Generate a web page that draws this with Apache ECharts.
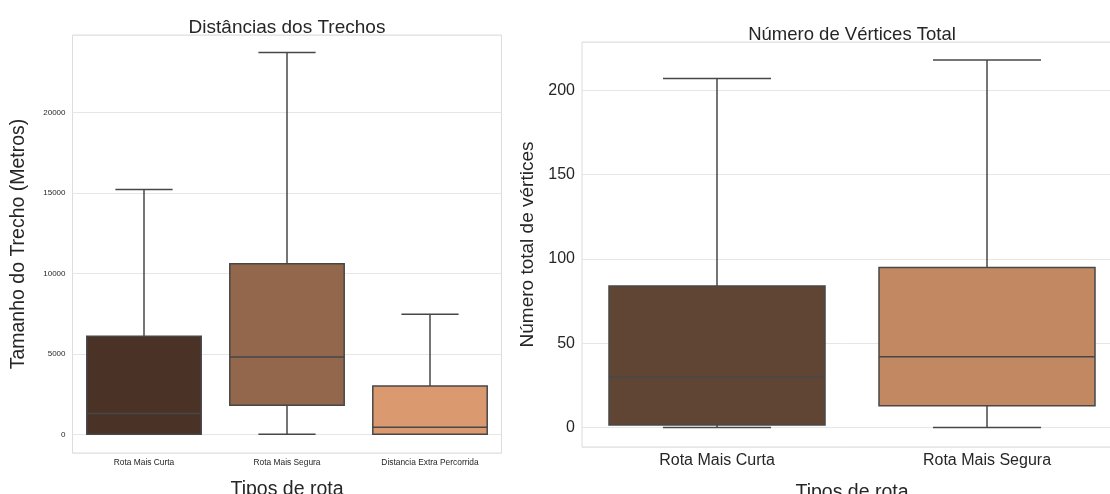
<!DOCTYPE html>
<html>
<head>
<meta charset="utf-8">
<script src="https://cdn.jsdelivr.net/npm/echarts@6/dist/echarts.min.js"></script>
<style>
html,body{margin:0;padding:0;background:#fff;}
#c{width:1110px;height:494px;}
</style>
</head>
<body>
<div id="c"></div>
<script>
// Left chart: Distâncias dos Trechos
const leftCategories = ['Rota Mais Curta', 'Rota Mais Segura', 'Distancia Extra Percorrida'];
// [min, q1, median, q3, max]
const leftStats = [
  [0, 0, 1300, 6100, 15230],
  [0, 1800, 4800, 10600, 23750],
  [0, 0, 440, 3000, 7460]
];
const leftColors = ['#4a3326', '#93674b', '#db9970'];

// Right chart: Número de Vértices Total
const rightCategories = ['Rota Mais Curta', 'Rota Mais Segura'];
const rightStats = [
  [0, 1.5, 30, 84, 207],
  [0, 13, 42, 95, 218]
];
const rightColors = ['#604434', '#c28862'];

const FONT = '"Liberation Sans", Arial, sans-serif';
const TXT = '#262626';
const LINE = '#474747';

function boxRender(colors) {
  return function (params, api) {
    const cat = api.value(0);
    const mn = api.value(1), q1 = api.value(2), md = api.value(3), q3 = api.value(4), mx = api.value(5);
    const band = api.size([1, 0])[0];
    const bw = band * 0.8;
    const cw = bw * 0.5;
    const pMin = api.coord([cat, mn]);
    const pQ1 = api.coord([cat, q1]);
    const pMd = api.coord([cat, md]);
    const pQ3 = api.coord([cat, q3]);
    const pMx = api.coord([cat, mx]);
    const x = pMd[0];
    const ls = { stroke: LINE, lineWidth: 1.5 };
    return {
      type: 'group',
      children: [
        { type: 'line', shape: { x1: x, y1: pQ3[1], x2: x, y2: pMx[1] }, style: ls },
        { type: 'line', shape: { x1: x, y1: pQ1[1], x2: x, y2: pMin[1] }, style: ls },
        { type: 'line', shape: { x1: x - cw / 2, y1: pMx[1], x2: x + cw / 2, y2: pMx[1] }, style: ls },
        { type: 'line', shape: { x1: x - cw / 2, y1: pMin[1], x2: x + cw / 2, y2: pMin[1] }, style: ls },
        { type: 'rect', shape: { x: x - bw / 2, y: pQ3[1], width: bw, height: pQ1[1] - pQ3[1] },
          style: { fill: colors[params.dataIndex], stroke: LINE, lineWidth: 1.5 } },
        { type: 'line', shape: { x1: x - bw / 2, y1: pMd[1], x2: x + bw / 2, y2: pMd[1] }, style: ls }
      ]
    };
  };
}

const leftData = leftStats.map((s, i) => [i].concat(s));
const rightData = rightStats.map((s, i) => [i].concat(s));
const plain = v => String(v);

const chart = echarts.init(document.getElementById('c'), null, { renderer: 'canvas' });
chart.setOption({
  animation: false,
  backgroundColor: '#ffffff',
  textStyle: { fontFamily: FONT, color: TXT },
  title: [
    { text: 'Distâncias dos Trechos', left: 282, top: 13, textAlign: 'center',
      textStyle: { fontFamily: FONT, fontSize: 19, fontWeight: 'normal', color: TXT } },
    { text: 'Número de Vértices Total', left: 847, top: 20, textAlign: 'center',
      textStyle: { fontFamily: FONT, fontSize: 18.5, fontWeight: 'normal', color: TXT } }
  ],
  grid: [
    { left: 72.5, top: 35, width: 429, height: 418, show: true, borderColor: '#dcdcdc', borderWidth: 1,
      backgroundColor: 'transparent', outerBoundsMode: 'none' },
    { left: 582, top: 42, width: 540, height: 405, show: true, borderColor: '#dcdcdc', borderWidth: 1,
      backgroundColor: 'transparent', outerBoundsMode: 'none' }
  ],
  xAxis: [
    { type: 'category', gridIndex: 0, data: leftCategories,
      axisLine: { show: false }, axisTick: { show: false }, splitLine: { show: false },
      axisLabel: { fontFamily: FONT, fontSize: 8.4, color: TXT, margin: 6, interval: 0 },
      name: 'Tipos de rota', nameLocation: 'middle', nameGap: 27,
      nameTextStyle: { fontFamily: FONT, fontSize: 19.5, color: TXT } },
    { type: 'category', gridIndex: 1, data: rightCategories,
      axisLine: { show: false }, axisTick: { show: false }, splitLine: { show: false },
      axisLabel: { fontFamily: FONT, fontSize: 16, color: TXT, margin: 6, interval: 0 },
      name: 'Tipos de rota', nameLocation: 'middle', nameGap: 36,
      nameTextStyle: { fontFamily: FONT, fontSize: 19.5, color: TXT } }
  ],
  yAxis: [
    { type: 'value', gridIndex: 0, min: -1163, max: 24832, splitNumber: 5,
      axisLine: { show: false }, axisTick: { show: false },
      splitLine: { show: true, lineStyle: { color: '#e6e6e6', width: 1 } },
      axisLabel: { fontFamily: FONT, fontSize: 8, color: TXT, margin: 7, showMinLabel: false, showMaxLabel: false, formatter: plain },
      name: 'Tamanho do Trecho (Metros)', nameLocation: 'middle', nameGap: 44,
      nameTextStyle: { fontFamily: FONT, fontSize: 19.5, color: TXT } },
    { type: 'value', gridIndex: 1, min: -11.5, max: 228.7, splitNumber: 5,
      axisLine: { show: false }, axisTick: { show: false },
      splitLine: { show: true, lineStyle: { color: '#e6e6e6', width: 1 } },
      axisLabel: { fontFamily: FONT, fontSize: 16, color: TXT, margin: 7, showMinLabel: false, showMaxLabel: false, formatter: plain },
      name: 'Número total de vértices', nameLocation: 'middle', nameGap: 45,
      nameTextStyle: { fontFamily: FONT, fontSize: 19, color: TXT } }
  ],
  series: [
    { type: 'custom', xAxisIndex: 0, yAxisIndex: 0, data: leftData,
      encode: { x: 0, y: [1, 2, 3, 4, 5] }, renderItem: boxRender(leftColors), clip: false },
    { type: 'custom', xAxisIndex: 1, yAxisIndex: 1, data: rightData,
      encode: { x: 0, y: [1, 2, 3, 4, 5] }, renderItem: boxRender(rightColors), clip: false }
  ]
});
</script>
</body>
</html>
